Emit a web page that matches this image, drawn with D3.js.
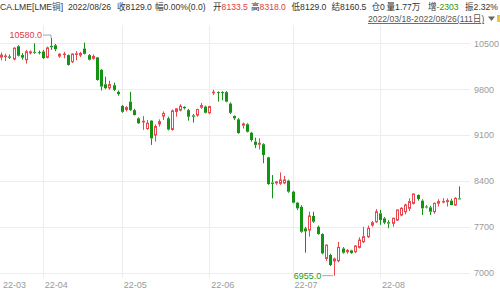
<!DOCTYPE html>
<html>
<head>
<meta charset="utf-8">
<script src="https://cdn.jsdelivr.net/npm/d3@7"></script>
<style>
  body { margin: 0; background: #fff; }
  svg { display: block; font-family: "Liberation Sans", "Noto Sans CJK SC", sans-serif; }
  .axis path, .axis line { display: none; }
  .axis text { fill: #9a9a9a; font-size: 9px; font-family: "Liberation Sans", sans-serif; }
</style>
</head>
<body>
<script>
// daily candles 2022/03/18 - 2022/08/26, 111 trading days
var opens = [10290,10300,10300,10260,10455,10320,10250,10355,10370,10365,10375,10285,10460,10470,10305,10330,10320,10220,10330,10320,
  10420,10320,10270,10286,10095,9875,9820,9860,9760,9545,9490,9610,9480,9355,9300,9200,9320,9100,9270,9390,
  9355,9185,9460,9480,9530,9480,9400,9405,9525,9535,9440,9745,9755,9755,9755,9580,9390,9340,9250,9265,
  9135,9000,8960,8960,8760,8375,8370,8363,8370,8405,8236,8068,8005,7676,7650,7865,7700,7590,7218,7270,
  7180,7183,7370,7320,7340,7320,7386,7473,7549,7727,7778,7905,7829,7770,7753,7804,7880,7931,7982,8058,
  8185,8099,8010,7997,7931,8060,8080,8085,8099,8033,8133.5];
var highs = [10360,10340,10330,10440,10470,10350,10400,10390,10500,10390,10400,10450,10580,10490,10345,10370,10330,10345,10380,10370,
  10510,10335,10330,10290,10110,9990,9930,9900,9780,9560,9540,9760,9500,9370,9390,9330,9330,9260,9340,9460,
  9380,9490,9510,9570,9540,9500,9420,9500,9590,9550,9545,9790,9765,9770,9770,9600,9400,9360,9290,9280,
  9150,9060,9050,8975,8770,8490,8400,8530,8475,8420,8250,8080,8030,7700,7930,7930,7720,7600,7430,7290,
  7230,7470,7390,7360,7350,7420,7540,7700,7720,7790,7970,7960,7850,7800,7840,7960,8000,8050,8135,8210,
  8195,8120,8030,8020,8070,8120,8135,8135,8130,8150,8318];
var lows = [10240,10230,10260,10240,10300,10250,10190,10330,10340,10330,10260,10270,10400,10380,10280,10270,10160,10200,10240,10290,
  10330,10240,10250,9930,9780,9800,9790,9770,9700,9440,9460,9470,9400,9270,9180,9180,8950,9000,9230,9330,
  9170,9170,9380,9460,9490,9320,9290,9380,9500,9430,9420,9710,9610,9630,9600,9420,9330,9120,9200,9140,
  9000,8900,8880,8670,8340,8135,8340,8340,8350,8220,8060,7955,7610,7305,7550,7760,7580,7280,7180,7100,
  6955,7160,7290,7290,7290,7300,7370,7450,7530,7700,7760,7730,7740,7680,7700,7790,7860,7890,7940,8040,
  8100,7880,7980,7880,7900,8010,8060,8010,8030,8020,8129];
var closes = [10320,10305,10280,10425,10310,10280,10370,10370,10355,10355,10275,10430,10440,10410,10335,10335,10170,10335,10340,10345,
  10340,10250,10300,9940,9840,9815,9870,9790,9725,9455,9520,9480,9405,9280,9310,9280,9050,9230,9305,9430,
  9185,9470,9500,9540,9510,9380,9380,9490,9550,9440,9535,9755,9745,9745,9610,9440,9355,9130,9270,9150,
  9025,8950,8975,8796,8353,8355,8385,8414,8415,8236,8068,7982,7625,7630,7865,7778,7590,7295,7420,7117,
  7210,7386,7305,7340,7300,7407,7498,7549,7676,7763,7930,7803,7763,7750,7830,7957,7982,8033,8084,8200,
  8124,7982,7995,7931,8058,8085,8085,8100,8033,8135,8129];

var yTicks = [10500, 9800, 9100, 8400, 7700, 7000];
var monthIdx = [0, 10, 29, 50, 70, 91];
var monthLabels = ["22-03", "22-04", "22-05", "22-06", "22-07", "22-08"];

var header = [
  {x: 0, parts: [["CA.LME[LME铜]", "#333"]]},
  {x: 68, parts: [["2022/08/26", "#333"]]},
  {x: 117, parts: [["收", "#333"], ["8129.0", "#333"]]},
  {x: 155, parts: [["幅", "#333"], ["0.00%(0.0)", "#333"]]},
  {x: 213, parts: [["开", "#333"], ["8133.5", "#e23b41"]]},
  {x: 251, parts: [["高", "#333"], ["8318.0", "#e23b41"]]},
  {x: 291.5, parts: [["低", "#333"], ["8129.0", "#333"]]},
  {x: 331.5, parts: [["结", "#333"], ["8160.5", "#333"]]},
  {x: 371.5, parts: [["仓", "#333"], ["0", "#333"]]},
  {x: 386.5, parts: [["量", "#333"], ["1.77万", "#333"]]},
  {x: 428, parts: [["增", "#333"], ["-2303", "#1a9a1a"]]},
  {x: 465, parts: [["振", "#333"], ["2.32%", "#333"]]}
];

var width = 500, height = 294;
var red = "#e8474f", green = "#139213";

var svg = d3.select("body").append("svg")
    .attr("width", width)
    .attr("height", height);

var x = d3.scaleLinear().domain([0, 110]).range([1.05, 459.2]);
var y = d3.scaleLinear().domain([7000, 10500]).range([272.7, 43.3]);

// header line
var ht = svg.append("g").attr("font-size", 8.6);
header.forEach(function(h) {
    var t = ht.append("text").attr("x", h.x).attr("y", 10);
    h.parts.forEach(function(p) {
        t.append("tspan").text(p[0]).attr("fill", p[1]);
    });
});

// period selector
svg.append("text")
    .attr("x", 368).attr("y", 22)
    .attr("font-size", 8.6)
    .attr("fill", "#555")
    .attr("text-decoration", "underline")
    .text("2022/03/18-2022/08/26(111日)");
svg.append("path")
    .attr("d", "M488,16.5 L495,16.5 L491.5,21 Z")
    .attr("fill", "#666");
svg.append("rect").attr("x", 497).attr("y", 15).attr("width", 3).attr("height", 7).attr("fill", "#f3c24a");

// grid
var grid = svg.append("g");
grid.selectAll(".hg").data(yTicks).enter().append("line")
    .attr("x1", 0).attr("x2", 470)
    .attr("y1", function(d) { return Math.round(y(d)) + 0.5; })
    .attr("y2", function(d) { return Math.round(y(d)) + 0.5; })
    .attr("stroke", "#ededed");
grid.selectAll(".vg").data(monthIdx.slice(1)).enter().append("line")
    .attr("x1", function(d) { return Math.round(x(d)) + 0.5; })
    .attr("x2", function(d) { return Math.round(x(d)) + 0.5; })
    .attr("y1", 25).attr("y2", 278)
    .attr("stroke", "#ededed");

// candles
var idx = d3.range(opens.length);
var candles = svg.append("g");
idx.forEach(function(i) {
    var up = closes[i] >= opens[i];
    var col = up ? red : green;
    var cx = Math.round(x(i)) + 0.5;
    var top = y(Math.max(opens[i], closes[i])), bot = y(Math.min(opens[i], closes[i]));
    // wick above and below the body
    candles.append("line")
        .attr("x1", cx).attr("x2", cx)
        .attr("y1", y(highs[i])).attr("y2", top)
        .attr("stroke", col);
    candles.append("line")
        .attr("x1", cx).attr("x2", cx)
        .attr("y1", bot).attr("y2", y(lows[i]))
        .attr("stroke", col);
    if (up) {
        candles.append("rect")
            .attr("x", cx - 1).attr("y", top)
            .attr("width", 2).attr("height", Math.max(bot - top, 0.5))
            .attr("fill", "#fff").attr("stroke", col).attr("stroke-width", 1);
    } else {
        candles.append("rect")
            .attr("x", cx - 1.5).attr("y", top)
            .attr("width", 3).attr("height", Math.max(bot - top, 1))
            .attr("fill", col);
    }
});

// max / min markers
var iMax = d3.maxIndex(highs), iMin = d3.minIndex(lows);
var yMax = y(highs[iMax]), yMin = y(lows[iMin]);
svg.append("path")
    .attr("d", "M" + (x(iMax) - 8) + "," + (yMax - 3) + " H" + x(iMax) + " V" + yMax)
    .attr("fill", "none").attr("stroke", "#9aaab8");
svg.append("text")
    .attr("x", x(iMax) - 9).attr("y", yMax)
    .attr("text-anchor", "end")
    .attr("font-size", 9).attr("fill", "#e23b41")
    .text(d3.format(".1f")(highs[iMax]));
svg.append("line")
    .attr("x1", x(iMin) - 12).attr("x2", x(iMin) - 1)
    .attr("y1", yMin).attr("y2", yMin)
    .attr("stroke", "#9aaab8");
svg.append("text")
    .attr("x", x(iMin) - 13).attr("y", yMin + 3)
    .attr("text-anchor", "end")
    .attr("font-size", 9).attr("fill", "#1a9a1a")
    .text(d3.format(".1f")(lows[iMin]));

// axes
var yAxis = d3.axisRight(y).tickValues(yTicks).tickSize(0).tickPadding(0).tickFormat(d3.format("d"));
svg.append("g").attr("class", "axis")
    .attr("transform", "translate(474,0)")
    .call(yAxis);

var xAxis = d3.axisBottom(x).tickValues(monthIdx).tickSize(0).tickPadding(0)
    .tickFormat(function(d, i) { return monthLabels[i]; });
svg.append("g").attr("class", "axis")
    .attr("transform", "translate(1.5,282)")
    .call(xAxis)
    .selectAll("text").attr("text-anchor", "start");
</script>
</body>
</html>
